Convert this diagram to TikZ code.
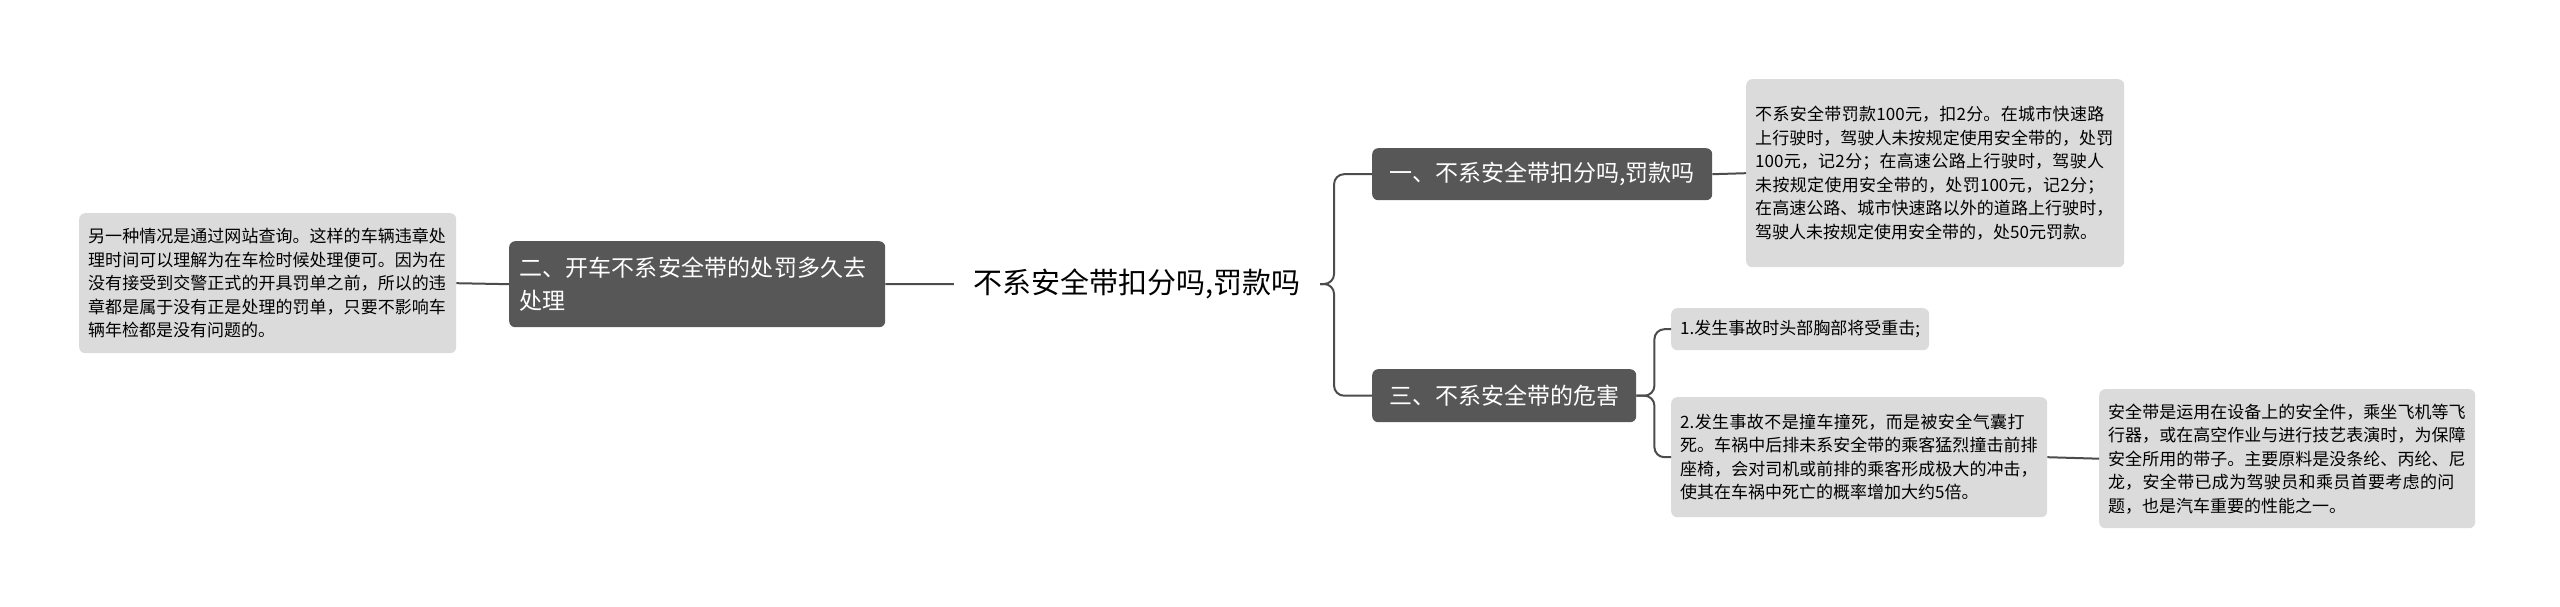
\documentclass[tikz,border=0pt]{standalone}
\usepackage{fontspec}
\setmainfont{Noto Sans CJK SC}
\XeTeXlinebreaklocale "zh"
\XeTeXlinebreakskip=0pt plus 1pt
\begin{document}
\begin{tikzpicture}[x=1pt,y=1pt,
  leaf/.style={fill=black!14,rounded corners=6pt,align=left,inner xsep=9pt,inner ysep=7pt,font=\fontsize{17}{23.5}\selectfont,anchor=north west},
  mid/.style={fill=black!66,text=white,rounded corners=6pt,align=left,inner xsep=10pt,inner ysep=8pt,font=\fontsize{23}{33}\selectfont},
  conn/.style={draw=black!70,line width=2pt,rounded corners=10pt}]
\useasboundingbox (0,0) rectangle (2560,-607);
\node[font=\fontsize{29}{34}\selectfont] (root) at (1137,-284) {不系安全带扣分吗,罚款吗};
\node[mid,text width=356pt,anchor=north west,minimum height=86pt] (n2) at (509,-241) {二、开车不系安全带的处罚多久去处理};
\node[leaf,text width=359pt,minimum height=140pt] (l2) at (79,-213) {另一种情况是通过网站查询。这样的车辆违章处理时间可以理解为在车检时候处理便可。因为在没有接受到交警正式的开具罚单之前，所以的违章都是属于没有正是处理的罚单，只要不影响车辆年检都是没有问题的。};
\node[mid,anchor=north west,minimum height=52pt,minimum width=340pt] (n1) at (1372,-148) {一、不系安全带扣分吗,罚款吗};
\node[leaf,text width=360pt,minimum height=188pt] (l1) at (1746,-79) {不系安全带罚款100元，扣2分。在城市快速路上行驶时，驾驶人未按规定使用安全带的，处罚100元，记2分；在高速公路上行驶时，驾驶人未按规定使用安全带的，处罚100元，记2分；在高速公路、城市快速路以外的道路上行驶时，驾驶人未按规定使用安全带的，处50元罚款。};
\node[mid,anchor=north west,minimum height=53pt,minimum width=264pt] (n3) at (1372,-369) {三、不系安全带的危害};
\node[leaf,minimum height=42pt,minimum width=233pt] (a1) at (1671,-308) {1.发生事故时头部胸部将受重击;};
\node[leaf,text width=358pt,minimum height=120pt] (a2) at (1671,-397) {2.发生事故不是撞车撞死，而是被安全气囊打死。车祸中后排未系安全带的乘客猛烈撞击前排座椅，会对司机或前排的乘客形成极大的冲击，使其在车祸中死亡的概率增加大约5倍。};
\node[leaf,text width=358pt,minimum height=139pt] (a3) at (2099,-389) {安全带是运用在设备上的安全件，乘坐飞机等飞行器，或在高空作业与进行技艺表演时，为保障安全所用的带子。主要原料是没条纶、丙纶、尼龙，安全带已成为驾驶员和乘员首要考虑的问题，也是汽车重要的性能之一。};
\coordinate (rr) at ([xshift=16pt]root.east);
\coordinate (rl) at ([xshift=-16pt]root.west);
\draw[conn] (rr) -- ++(14,0) |- (n1.west);
\draw[conn] (rr) -- ++(14,0) |- (n3.west);
\draw[conn] (rl) -- (n2.east);
\draw[conn] (n2.west) -- (l2.east);
\draw[conn] (n1.east) -- (l1.west);
\draw[conn] (n3.east) -- ++(18,0) |- (a1.west);
\draw[conn] (n3.east) -- ++(18,0) |- (a2.west);
\draw[conn] (a2.east) -- (a3.west);
\end{tikzpicture}
\end{document}
